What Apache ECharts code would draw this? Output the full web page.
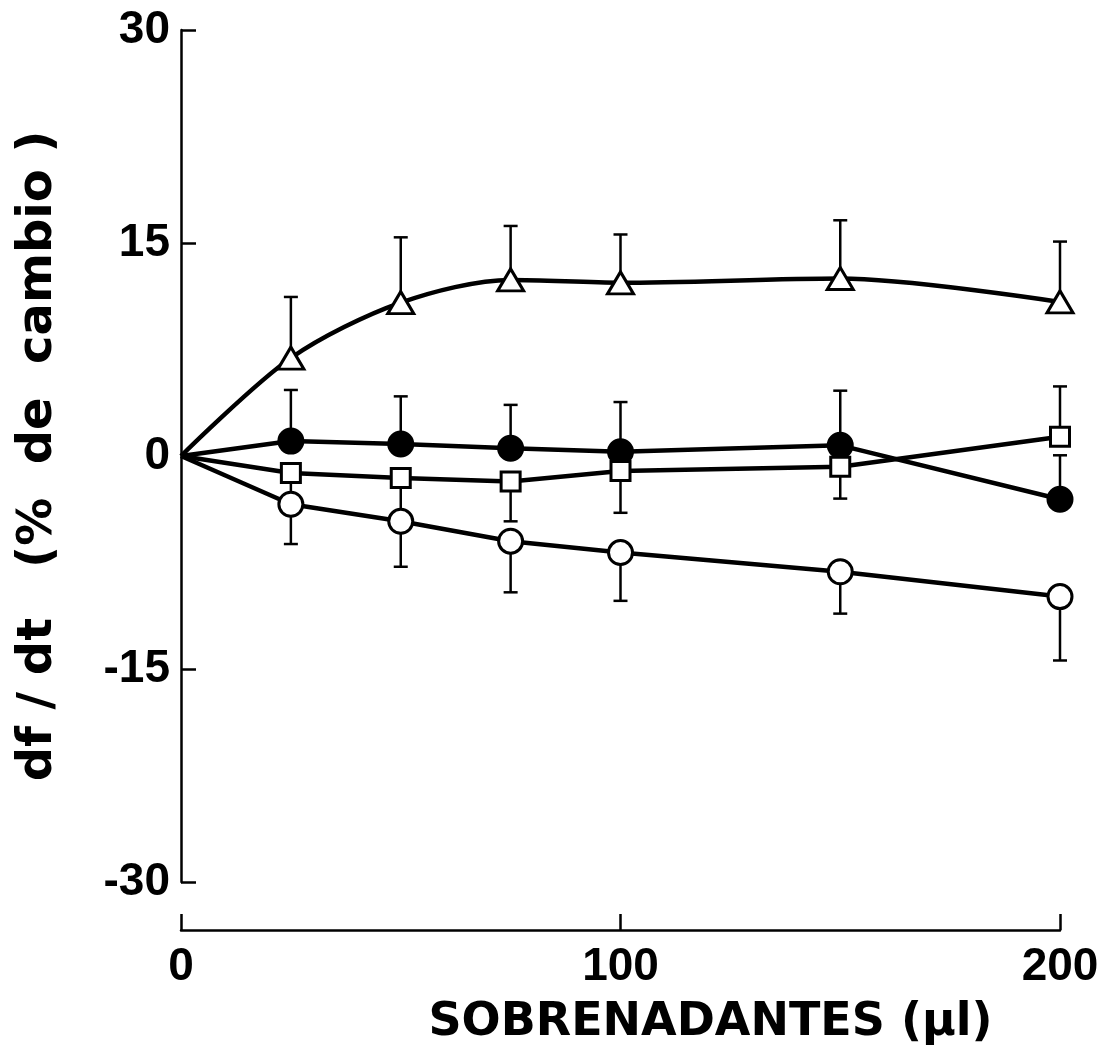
<!DOCTYPE html>
<html>
<head>
<meta charset="utf-8">
<script src="https://cdn.jsdelivr.net/npm/echarts@6/dist/echarts.min.js"></script>
<style>
  html, body { margin: 0; padding: 0; background: #fff; }
  #container { width: 1100px; height: 1047px; }
</style>
</head>
<body>
<div id="container"></div>
<script>
var dom = document.getElementById('container');
var myChart = echarts.init(dom, null, { renderer: 'canvas' });

// dose of supernatant (µl)
const doses = [0, 25, 50, 75, 100, 150, 200];
// open triangles
const triangle = [0, 6.9, 10.8, 12.4, 12.2, 12.5, 10.85];
const triangleErr = [null, 11.2, 15.4, 16.2, 15.6, 16.6, 15.1];
// filled circles
const filledCircle = [0, 1.05, 0.85, 0.55, 0.3, 0.75, -3.05];
const filledCircleErr = [null, 4.65, 4.2, 3.6, 3.8, 4.6, 0.05];
// open squares
const square = [0, -1.2, -1.55, -1.8, -1.05, -0.75, 1.35];
const squareErr = [null, -3.4, -4.6, -4.6, -4.0, -3.0, 4.9];
// open circles
const openCircle = [0, -3.4, -4.6, -6.0, -6.8, -8.15, -9.9];
const openCircleErr = [null, -6.2, -7.8, -9.6, -10.2, -11.1, -14.4];

const yTicks = [-30, -15, 0, 15, 30];
const xTicks = [0, 100, 200];

// origin is shared by every curve and carries no marker
function pts(vals) {
  return doses.map((d, i) => i === 0 ? { value: [d, vals[i]], symbol: 'none' } : [d, vals[i]]);
}
function errPts(vals, errs) {
  return doses.map((d, i) => [d, vals[i], errs[i]]).filter(r => r[2] != null);
}

function renderErr(params, api) {
  const p0 = api.coord([api.value(0), api.value(1)]);
  const p1 = api.coord([api.value(0), api.value(2)]);
  const half = 7;
  const st = { stroke: '#000', lineWidth: 2.5 };
  return {
    type: 'group',
    children: [
      { type: 'line', shape: { x1: p0[0], y1: p0[1], x2: p1[0], y2: p1[1] }, style: st },
      { type: 'line', shape: { x1: p1[0] - half, y1: p1[1], x2: p1[0] + half, y2: p1[1] }, style: st }
    ]
  };
}

function errSeries(vals, errs) {
  return {
    type: 'custom',
    z: 1,
    silent: true,
    renderItem: renderErr,
    encode: { x: 0, y: [1, 2] },
    data: errPts(vals, errs)
  };
}

function lineSeries(name, vals, symbol, size, fill, smooth) {
  return {
    name: name,
    type: 'line',
    z: 3,
    smooth: smooth || false,
    symbol: symbol,
    symbolSize: size,
    showAllSymbol: true,
    lineStyle: { color: '#000', width: 4.5 },
    itemStyle: { color: fill, borderColor: '#000', borderWidth: 3, opacity: 1 },
    emphasis: { disabled: true },
    data: pts(vals)
  };
}

const tickFont = { color: '#000', fontFamily: 'Liberation Sans', fontWeight: 'bold', fontSize: 46 };
const nameFont = { color: '#000', fontFamily: 'DejaVu Sans', fontWeight: 'bold' };

var option = {
  backgroundColor: '#fff',
  animation: false,
  grid: { left: 181, right: 40, top: 30, bottom: 165, containLabel: false, outerBoundsMode: 'none' },
  xAxis: {
    type: 'value',
    min: 0,
    max: 200,
    interval: 100,
    offset: 48,
    name: 'SOBRENADANTES (µl)',
    nameLocation: 'middle',
    nameGap: 70,
    nameTextStyle: Object.assign({ fontSize: 46, padding: [0, 0, 0, 180] }, nameFont),
    axisLine: { show: true, onZero: false, lineStyle: { color: '#000', width: 2.5 } },
    axisTick: { show: true, inside: true, length: 16, lineStyle: { color: '#000', width: 2.5 } },
    axisLabel: Object.assign({ margin: 14, formatter: v => xTicks.includes(v) ? String(v) : '' }, tickFont),
    splitLine: { show: false }
  },
  yAxis: {
    type: 'value',
    min: -30,
    max: 30,
    interval: 15,
    name: 'df / dt   (%  de  cambio )',
    nameLocation: 'middle',
    nameGap: 118,
    nameTextStyle: Object.assign({ fontSize: 48 }, nameFont),
    axisLine: { show: true, onZero: false, lineStyle: { color: '#000', width: 2.5 } },
    axisTick: { show: true, inside: true, length: 15, lineStyle: { color: '#000', width: 2.5 } },
    axisLabel: Object.assign({ margin: 11, formatter: v => yTicks.includes(v) ? String(v) : '' }, tickFont),
    splitLine: { show: false }
  },
  series: [
    errSeries(triangle, triangleErr),
    errSeries(filledCircle, filledCircleErr),
    errSeries(square, squareErr),
    errSeries(openCircle, openCircleErr),
    lineSeries('triangle', triangle, 'triangle', [26, 22], '#fff', 0.3),
    lineSeries('filled', filledCircle, 'circle', 24, '#000'),
    lineSeries('square', square, 'rect', 19, '#fff'),
    lineSeries('open', openCircle, 'circle', 24, '#fff')
  ]
};

myChart.setOption(option);
window.addEventListener('resize', myChart.resize);
</script>
</body>
</html>
